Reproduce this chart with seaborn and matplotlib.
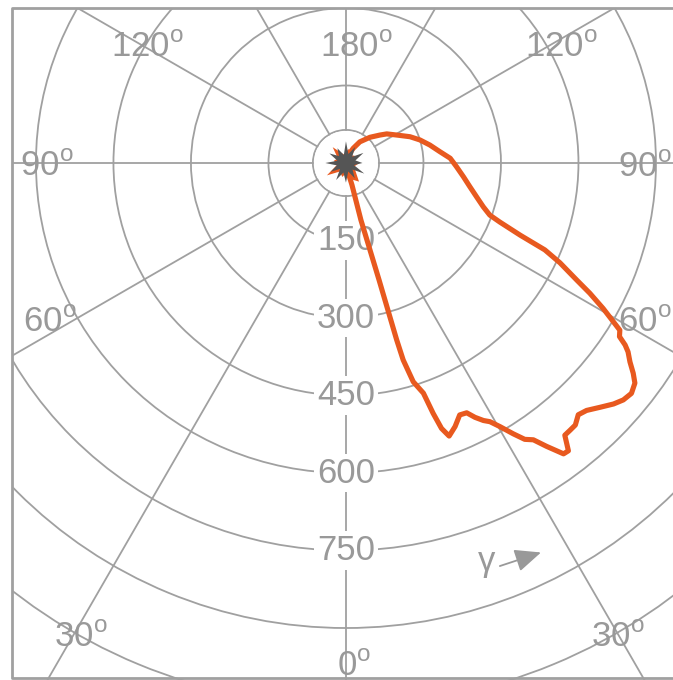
import numpy as np
import matplotlib
matplotlib.use('Agg')
import matplotlib.pyplot as plt
import seaborn as sns
from matplotlib.patches import Rectangle
from matplotlib.lines import Line2D

# data: angle gamma (deg, 0 at bottom) and radius of the measured loop
gamma_deg = [170.0, 164.0, 153.6, 146.7, 137.0, 129.5, 125.5, 118.9, 112.3, 107.3, 102.1,
             96.9, 92.6, 88.1, 83.3, 79.2, 75.5, 72.3, 70.1, 69.0, 67.5,
             66.4, 65.0, 63.1, 61.9, 60.5, 59.3, 58.6, 57.6, 56.9, 56.2,
             55.0, 53.8, 52.7, 51.1, 49.5, 48.0, 46.1, 44.2, 42.7, 41.2,
             40.0, 38.8, 37.7, 36.8, 35.3, 34.1, 32.9, 31.7, 30.3, 29.1,
             28.1, 26.9, 25.8, 24.3, 22.5, 20.7, 19.8, 19.2, 18.6, 17.1,
             16.2, 16.0, 15.8, 14.7, 15.3, 12.5, 10.0]
radius = [0, 16, 32, 49, 68, 85, 97, 112, 134, 150, 166,
          183, 202, 214, 229, 244, 261, 279, 296, 319, 365,
          420, 457, 501, 535, 572, 602, 621, 627, 645, 657,
          671, 689, 703, 710, 706, 697, 682, 668, 663, 674,
          675, 676, 704, 703, 672, 647, 637, 616, 591, 573,
          565, 552, 537, 535, 552, 565, 546, 513, 470, 443,
          397, 356, 235, 114, 44, 18, 0]

# noise at the origin
noise_deg = [0, 20, 35, 50, 70, 90, 110, 130, 150, 170, 190, 205, 220, 240, 260, 280, 303, 325, 345]
noise_r = [20, 34, 44, 24, 18, 26, 16, 22, 17, 28, 16, 22, 40, 18, 24, 17, 44, 20, 28]
star_deg = list(range(0, 360, 15))
star_r = [38, 17, 34, 18, 41, 16, 32, 19, 39, 17, 36, 18, 42, 16, 33, 19, 37, 17, 40, 18, 34, 16, 38, 19]

ring_ticks = [150, 300, 450, 600, 750, 900, 1050, 1200]
ring_labels = ['150', '300', '450', '600', '750']
spoke_deg = list(range(0, 360, 30))

sns.set_theme(style='white')
plt.rcParams['font.family'] = ['Liberation Sans', 'DejaVu Sans']
plt.rcParams['mathtext.fontset'] = 'custom'
plt.rcParams['mathtext.rm'] = 'Liberation Sans'

grey = '#a0a0a0'
txt = '#999999'
orange = '#e8591f'

fig = plt.figure(figsize=(6.73, 6.80), dpi=100)
ax = fig.add_axes([-0.4840, -0.2275, 1.9961, 1.9756], projection='polar')
ax.set_theta_zero_location('S')
ax.set_theta_direction(1)
ax.set_ylim(0, 1300)
ax.set_xticks(np.deg2rad(spoke_deg))
ax.set_xticklabels([])
ax.set_yticks([64] + ring_ticks)
ax.set_yticklabels([])
ax.grid(True, color=grey, lw=1.3)
ax.spines['polar'].set_visible(False)
ax.set_facecolor('white')

# hide spokes inside the inner ring
ax.bar(0, 62, width=2 * np.pi, bottom=0, color='white', zorder=1.6, linewidth=0)

# ring labels along the 0 deg spoke
for lab in ring_labels:
    ax.text(0, float(lab), lab, ha='center', va='center', fontsize=25, color=txt, zorder=3,
            bbox=dict(boxstyle='square,pad=0.08', fc='white', ec='none'))

# angle labels (mirrored 0..180 on both sides)
ang_labels = [('120', 241.8, 435), ('180', 174.1, 206), ('120', 116.2, 464),
              ('90', 272.5, 579), ('90', 87.3, 579), ('60', 299.7, 660), ('60', 60.5, 665),
              ('30', 331.3, 1068), ('30', 29.3, 1074), ('0', 0.9, 993)]
for lab, th, rr in ang_labels:
    ax.text(np.deg2rad(th), rr, lab + r'$^{\mathrm{o}}$', ha='center', va='baseline',
            fontsize=25, color=txt, zorder=3)

# measured loop
sns.lineplot(x=np.deg2rad(gamma_deg), y=radius, ax=ax, sort=False, estimator=None,
             color=orange, lw=3.7, zorder=4)
ax.fill(np.deg2rad(noise_deg), noise_r, color=orange, lw=0, zorder=4.5)
ax.fill(np.deg2rad(star_deg), star_r, color='#555555', lw=0, zorder=5)

# gamma direction arrow
ax.annotate('', xy=(np.deg2rad(26.6), 843), xytext=(np.deg2rad(20.9), 835),
            arrowprops=dict(arrowstyle='-|>,head_length=0.8,head_width=0.35',
                            color='#999999', lw=1.3, mutation_scale=20, shrinkA=0, shrinkB=0),
            zorder=3)
ax.text(np.deg2rad(19.4), 817, 'γ', ha='center', va='center', fontsize=25, color=txt, zorder=3)

# frame around the visible window
W, H = 673.0, 680.0
fig.add_artist(Rectangle((0, 0), 12 / W, 1, transform=fig.transFigure, color='white', zorder=20))
fig.add_artist(Rectangle((0, 1 - 8 / H), 1, 8 / H, transform=fig.transFigure, color='white', zorder=20))
fig.add_artist(Line2D([1, 12 / W, 12 / W, 1], [1 - 8 / H, 1 - 8 / H, 1 - 678 / H, 1 - 678 / H],
                      transform=fig.transFigure, color=grey, lw=2.0, zorder=21))

fig.savefig('out.png', dpi=100)
